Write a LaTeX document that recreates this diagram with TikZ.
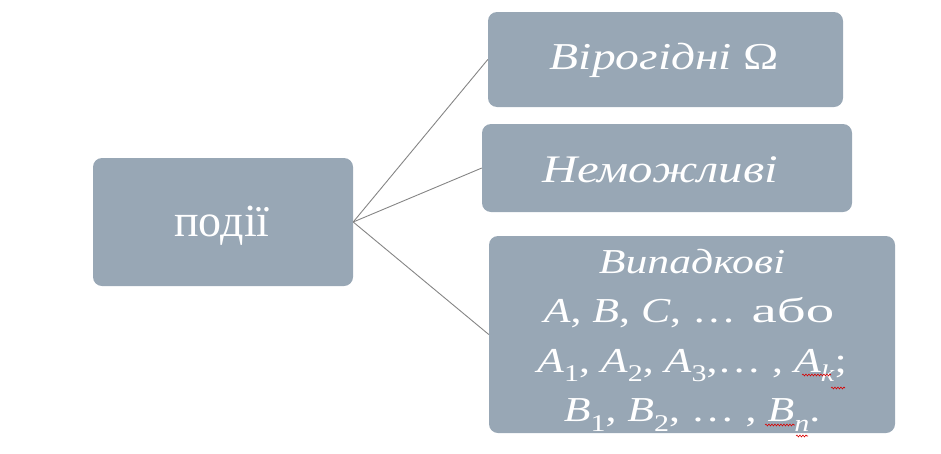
\documentclass[tikz,border=0pt]{standalone}
\usepackage{fontspec}
\setmainfont{Liberation Serif}
\newfontfamily\widefont[FakeStretch=1.25]{Liberation Serif}
\usetikzlibrary{decorations.pathmorphing}
\definecolor{boxfill}{HTML}{98A7B5}
\definecolor{linkgray}{HTML}{858585}
\newcommand{\sbs}[1]{\raisebox{-0.28em}{\fontsize{24}{24}\selectfont #1}}
\tikzset{
  catbox/.style={fill=boxfill, rounded corners=9pt, inner sep=0pt},
  lbl/.style={text=white, align=center, inner sep=0pt, anchor=base},
  link/.style={draw=linkgray, line width=0.9pt},
  spell/.style={draw=red!85!black, line width=0.6pt, decorate, decoration={snake, amplitude=0.9pt, segment length=3pt}}
}
\begin{document}
\begin{tikzpicture}[x=1pt,y=-1pt]
\useasboundingbox (0,0) rectangle (941,453);
\node[catbox, minimum width=260pt, minimum height=128pt] (root) at (223,222) {};
\node[catbox, minimum width=355pt, minimum height=95pt] (a) at (665.5,59.5) {};
\node[catbox, minimum width=370pt, minimum height=88pt] (b) at (667,168) {};
\node[catbox, minimum width=406pt, minimum height=197pt] (c) at (692,334.5) {};
\node[lbl, font=\fontsize{46}{50}\selectfont] (rootlbl) at (222,236) {події};
\node[lbl, font=\widefont\fontsize{38}{46}\selectfont] (albl) at (664.5,69) {\textit{Вірогідні} Ω};
\node[lbl, font=\widefont\fontsize{39}{46}\selectfont] (blbl) at (660,182) {\textit{Неможливі}};
\node[lbl, anchor=north, font=\widefont\fontsize{35}{49.3}\selectfont] (clbl) at (692,249) {%
\textit{Випадкові}\\
\hspace*{-6pt}\textit{A}, \textit{B}, \textit{C}, …\hspace{0.45em}\scalebox{1.3}[1]{або}\\
\textit{A}\sbs{1}, \textit{A}\sbs{2}, \textit{A}\sbs{3},… , \textit{A}\sbs{\textit{k}};\\
\textit{B}\sbs{1}, \textit{B}\sbs{2}, … , \textit{B}\sbs{\textit{n}}.};
\draw[link] (root.east) -- (a.west);
\draw[link] (root.east) -- (b.west);
\draw[link] (root.east) -- (c.west);
\coordinate (w1a) at (802,375); \coordinate (w1b) at (831,375);
\coordinate (w2a) at (831,388); \coordinate (w2b) at (845,388);
\coordinate (w3a) at (765,425); \coordinate (w3b) at (795,425);
\coordinate (w4a) at (796,436); \coordinate (w4b) at (808,436);
\draw[spell] (w1a) -- (w1b);
\draw[spell] (w2a) -- (w2b);
\draw[spell] (w3a) -- (w3b);
\draw[spell] (w4a) -- (w4b);
\end{tikzpicture}
\end{document}
